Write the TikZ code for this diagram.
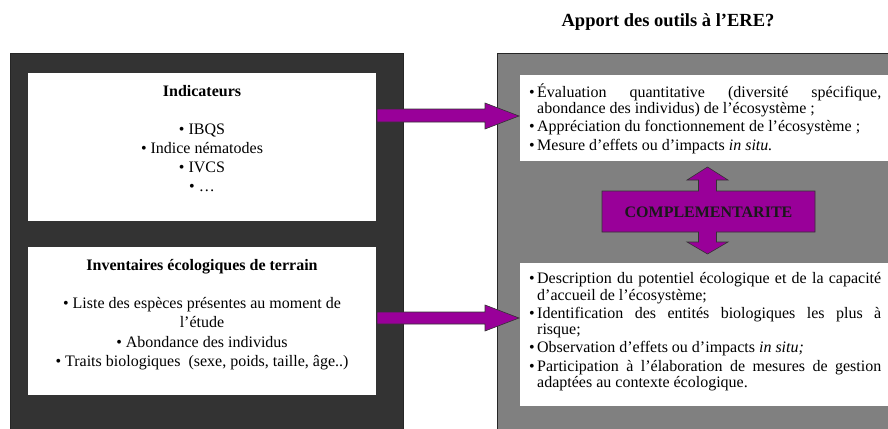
\documentclass[tikz,border=0pt]{standalone}
\usepackage{fontspec}
\setmainfont{Liberation Serif}
\definecolor{darkbg}{HTML}{333333}
\definecolor{graybg}{HTML}{808080}
\definecolor{purp}{HTML}{990099}
\newcommand\bitem[1]{\par\hangindent=8pt\hangafter=1\noindent\makebox[8pt][l]{•}#1\par}
\tikzset{
  panel/.style={draw=black!85, line width=0.8pt},
  whitebox/.style={fill=white, draw=none},
  ltext/.style={anchor=base, inner sep=0pt, font=\fontsize{16}{19}\selectfont},
  rtext/.style={anchor=base west, inner sep=0pt, text width=352pt, align=justify,
    font=\fontsize{16}{16.2}\selectfont},
  blockarrow/.style={fill=purp, draw=black!80, line width=0.6pt, line join=miter},
}
\begin{document}
\begin{tikzpicture}[x=1pt, y=-1pt]
\path[use as bounding box] (0,0) rectangle (888,428);
\clip (0,0) rectangle (888,428);
% title
\node[anchor=base, inner sep=0pt, font=\bfseries\fontsize{18.5}{20}\selectfont] (title) at (668,27) {Apport des outils à l’ERE?};
% panels
\filldraw[panel, fill=darkbg] (10,53) rectangle (403,440);
\filldraw[panel, fill=graybg] (497,53) rectangle (900,440);
% left white boxes
\fill[whitebox] (28,73) rectangle (376,221);
\fill[whitebox] (28,247) rectangle (376,395);
% right white boxes
\fill[whitebox] (520,75) rectangle (900,161);
\fill[whitebox] (520,263) rectangle (900,406);
% left texts
\node[ltext, font=\bfseries\fontsize{16}{19}\selectfont] (ind) at (202,96) {Indicateurs};
\node[ltext] (i1) at (202,134) {• IBQS};
\node[ltext] (i2) at (202,153) {• Indice nématodes};
\node[ltext] (i3) at (202,172) {• IVCS};
\node[ltext] (i4) at (202,191) {• …};
\node[ltext, font=\bfseries\fontsize{16}{19}\selectfont] (inv) at (202,270) {Inventaires écologiques de terrain};
\node[ltext] (v1) at (202,308) {• Liste des espèces présentes au moment de};
\node[ltext] (v2) at (202,327.5) {l’étude};
\node[ltext] (v3) at (202,347) {• Abondance des individus};
\node[ltext] (v4) at (202,366.5) {• Traits biologiques~ (sexe, poids, taille, âge..)};
% right texts
\node[rtext] (r1) at (529,78.5) {\setlength\parskip{2.4pt}%
\bitem{Évaluation quantitative (diversité spécifique,\linebreak abondance des individus) de l’écosystème ;}%
\bitem{Appréciation du fonctionnement de l’écosystème ;}%
\bitem{Mesure d’effets ou d’impacts \textit{in situ.}}};
\node[rtext] (r2) at (529,265.5) {\setlength\parskip{2.1pt}%
\bitem{Description du potentiel écologique et de la capacité\linebreak d’accueil de l’écosystème;}%
\bitem{Identification des entités biologiques les plus à\linebreak risque;}%
\bitem{Observation d’effets ou d’impacts \textit{in situ;}}%
\bitem{Participation à l’élaboration de mesures de gestion\linebreak adaptées au contexte écologique.}};
% block arrows
\coordinate (a1t) at (519,116);
\filldraw[blockarrow] (377,109) -- (485,109) -- (485,103) -- (a1t) -- (485,129) -- (485,122) -- (377,122) -- cycle;
\coordinate (a2t) at (519,318);
\filldraw[blockarrow] (377,312) -- (485,312) -- (485,305) -- (a2t) -- (485,331) -- (485,324) -- (377,324) -- cycle;
% complementarite double arrow
\filldraw[blockarrow] (602,191) -- (698.5,191) -- (698.5,180) -- (687,180) -- (707.5,167) -- (728,180) -- (716.5,180) -- (716.5,191) -- (815,191) -- (815,232) -- (716.5,232) -- (716.5,242) -- (728,242) -- (707.5,254) -- (687,242) -- (698.5,242) -- (698.5,232) -- (602,232) -- cycle;
\node[anchor=base, inner sep=0pt, font=\bfseries\fontsize{16}{18}\selectfont, text=black!90] (comp) at (708.5,217) {COMPLEMENTARITE};
\end{tikzpicture}
\end{document}
